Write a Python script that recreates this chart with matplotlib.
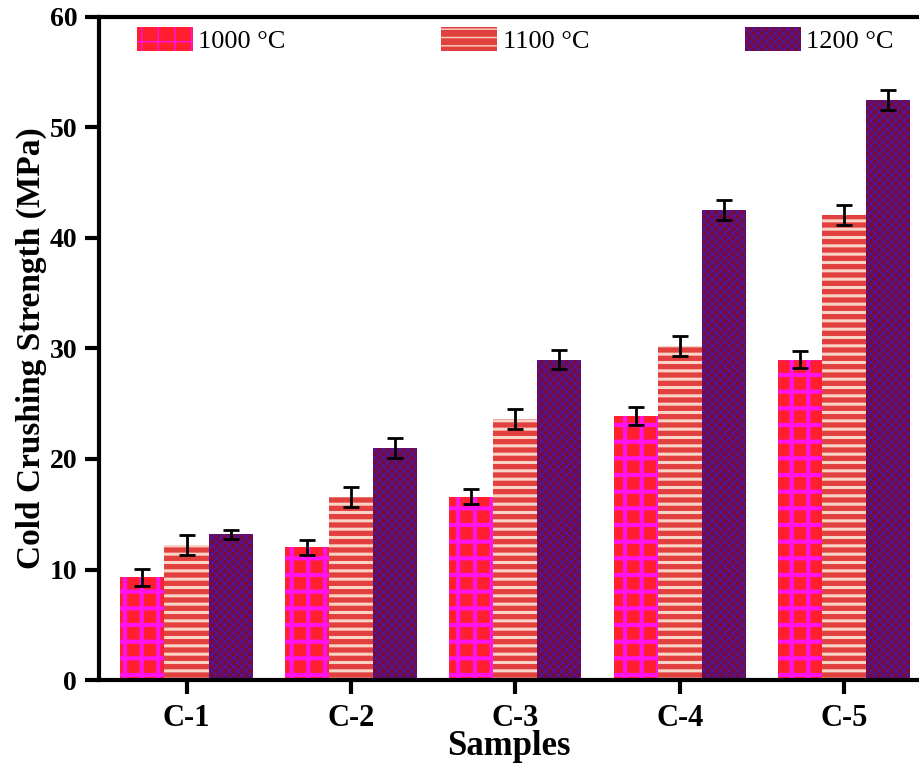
import numpy as np
import matplotlib
matplotlib.use('Agg')
import matplotlib.pyplot as plt

samples = ['C-1', 'C-2', 'C-3', 'C-4', 'C-5']
temps = ['1000 °C', '1100 °C', '1200 °C']
ccs_1000 = [9.3, 12.0, 16.6, 23.9, 29.0]
ccs_1100 = [12.2, 16.6, 23.6, 30.2, 42.1]
ccs_1200 = [13.2, 21.0, 29.0, 42.5, 52.5]
err_1000 = [0.75, 0.7, 0.7, 0.8, 0.75]
err_1100 = [0.9, 0.9, 0.9, 0.9, 0.9]
err_1200 = [0.4, 0.9, 0.9, 0.9, 0.9]

plt.rcParams['font.family'] = ['Liberation Serif', 'DejaVu Serif']

fig = plt.figure(figsize=(9.2, 7.65), dpi=100)
ax = fig.add_axes([0.108, 0.111, 0.89, 0.867])

x = np.arange(1, len(samples) + 1)
w = 0.268
styles = [
    dict(color='#ff1f2e', edgecolor='#ff14f0', hatch='+', lw=0),
    dict(color='#e23f3f', edgecolor='#f8d4c6', hatch='--', lw=0),
    dict(color='#7a0838', edgecolor='#4a18a0', hatch='xxxx', lw=0),
]
series = [(ccs_1000, err_1000), (ccs_1100, err_1100), (ccs_1200, err_1200)]
hatch_lw = [3.0, 2.2, 1.0]

handles = []
for i, ((vals, errs), st) in enumerate(zip(series, styles)):
    with plt.rc_context({'hatch.linewidth': hatch_lw[i]}):
        b = ax.bar(x + (i - 1) * w, vals, w, label=temps[i], **st)
    ax.errorbar(x + (i - 1) * w, vals, yerr=errs, fmt='none', ecolor='black',
                elinewidth=2, capsize=5.5, capthick=2)
    handles.append(b)

ax.set_xlim(0.47, 5.45)
ax.set_ylim(0, 60)
ax.set_xticks(x)
ax.set_xticklabels(samples)
ax.set_yticks(range(0, 61, 10))

for s in ['left', 'bottom', 'top']:
    ax.spines[s].set_linewidth(3)
ax.spines['right'].set_visible(False)
ax.tick_params(axis='both', which='major', direction='out', length=10, width=3)
ax.tick_params(axis='x', labelsize=22, pad=7)
ax.tick_params(axis='y', labelsize=20, pad=6)
for lab in ax.get_xticklabels() + ax.get_yticklabels():
    lab.set_fontweight('bold')

ax.set_xlabel('Samples', fontsize=25, fontweight='bold', labelpad=-2)
ax.set_ylabel('Cold Crushing Strength (MPa)', fontsize=24, fontweight='bold', labelpad=2)

ax.legend(handles=handles, loc='upper left', bbox_to_anchor=(0.017, 1.02), ncol=3,
          frameon=False, fontsize=19, handlelength=2.12, handleheight=1.02,
          columnspacing=5.9, handletextpad=0.2)

fig.savefig('out.png', dpi=100)
